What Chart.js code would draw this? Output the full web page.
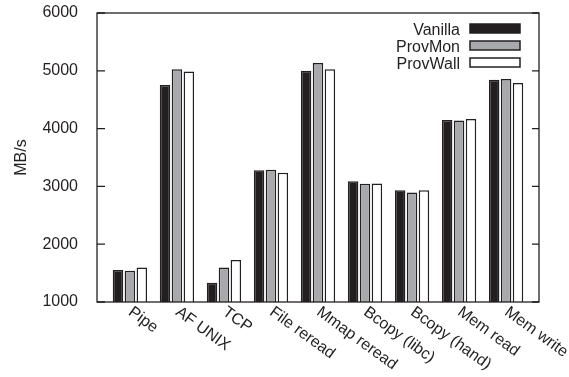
<!DOCTYPE html>
<html>
<head>
<meta charset="utf-8">
<script src="https://cdn.jsdelivr.net/npm/chart.js@4"></script>
<style>
  html, body { margin: 0; background: #fff; }
  #wrap { width: 569px; height: 377px; }
</style>
</head>
<body>
<div id="wrap"><canvas id="chart"></canvas></div>
<script>
// Data (MB/s)
const categories = ["Pipe", "AF UNIX", "TCP", "File reread", "Mmap reread", "Bcopy (libc)", "Bcopy (hand)", "Mem read", "Mem write"];
const seriesNames = ["Vanilla", "ProvMon", "ProvWall"];
const vanilla = [1555, 4755, 1335, 3280, 5000, 3090, 2935, 4150, 4845];
const provMon = [1540, 5025, 1595, 3290, 5135, 3045, 2895, 4140, 4860];
const provWall = [1595, 4990, 1725, 3235, 5025, 3050, 2935, 4165, 4790];
const yTicks = [1000, 2000, 3000, 4000, 5000, 6000];

const ink = "#231f20";
const fills = [ink, "#a7a9ac", "#ffffff"];
const FONT = "'Liberation Sans', Arial, Helvetica, sans-serif";

function toPoints(arr) {
  return arr.map((v, i) => ({ x: i, y: v }));
}

// Frame, inward ticks, rotated category labels and legend
const decorations = {
  id: "decorations",
  afterDraw(chart) {
    const { ctx, chartArea: a, scales } = chart;
    ctx.save();
    ctx.strokeStyle = ink;
    ctx.lineWidth = 1.3;
    ctx.strokeRect(a.left, a.top, a.right - a.left, a.bottom - a.top);

    // y ticks pointing inward on both sides
    yTicks.forEach(v => {
      const y = scales.y.getPixelForValue(v);
      ctx.beginPath();
      ctx.moveTo(a.left, y); ctx.lineTo(a.left + 8, y);
      ctx.moveTo(a.right, y); ctx.lineTo(a.right - 7, y);
      ctx.stroke();
    });

    // category labels, rotated clockwise
    ctx.fillStyle = ink;
    ctx.font = "16px " + FONT;
    ctx.textAlign = "left";
    ctx.textBaseline = "top";
    categories.forEach((c, i) => {
      const x = scales.x.getPixelForValue(i);
      ctx.save();
      ctx.translate(x + 5, a.bottom + 2);
      ctx.rotate(36 * Math.PI / 180);
      ctx.fillText(c, 0, 0);
      ctx.restore();
    });

    // legend in the top right corner
    ctx.font = "16px " + FONT;
    ctx.textAlign = "right";
    ctx.textBaseline = "alphabetic";
    seriesNames.forEach((name, k) => {
      const top = 24 + k * 17;
      ctx.fillStyle = ink;
      ctx.fillText(name, 460, top + 11);
      ctx.fillStyle = fills[k];
      ctx.fillRect(470, top, 50, 9);
      ctx.lineWidth = 1.5;
      ctx.strokeRect(470, top, 50, 9);
    });
    ctx.restore();
  }
};

const datasets = [vanilla, provMon, provWall].map((arr, k) => ({
  label: seriesNames[k],
  data: toPoints(arr),
  backgroundColor: fills[k],
  borderColor: ink,
  borderWidth: 1.5,
  borderSkipped: "start",
  categoryPercentage: 0.76,
  barPercentage: 0.88
}));

new Chart(document.getElementById("chart"), {
  type: "bar",
  data: { datasets },
  options: {
    responsive: true,
    maintainAspectRatio: false,
    animation: false,
    layout: { padding: { left: 10, right: 30, top: 13, bottom: 75 } },
    plugins: { legend: { display: false }, tooltip: { enabled: false } },
    scales: {
      x: {
        type: "linear",
        display: false,
        offset: false,
        min: -0.7,
        max: 8.7,
        afterBuildTicks: s => { s.ticks = categories.map((c, i) => ({ value: i })); }
      },
      y: {
        min: 1000,
        max: 6000,
        afterBuildTicks: s => { s.ticks = yTicks.map(v => ({ value: v })); },
        afterFit: s => { s.width = 87; s.paddingTop = 0; s.paddingBottom = 0; },
        grid: { display: false },
        border: { display: false },
        ticks: {
          color: ink,
          padding: 11,
          font: { family: FONT, size: 16 },
          callback: v => String(v)
        },
        title: {
          display: true,
          text: "MB/s",
          color: ink,
          padding: { top: 2, bottom: 0 },
          font: { family: FONT, size: 16 }
        }
      }
    }
  },
  plugins: [decorations]
});
</script>
</body>
</html>
